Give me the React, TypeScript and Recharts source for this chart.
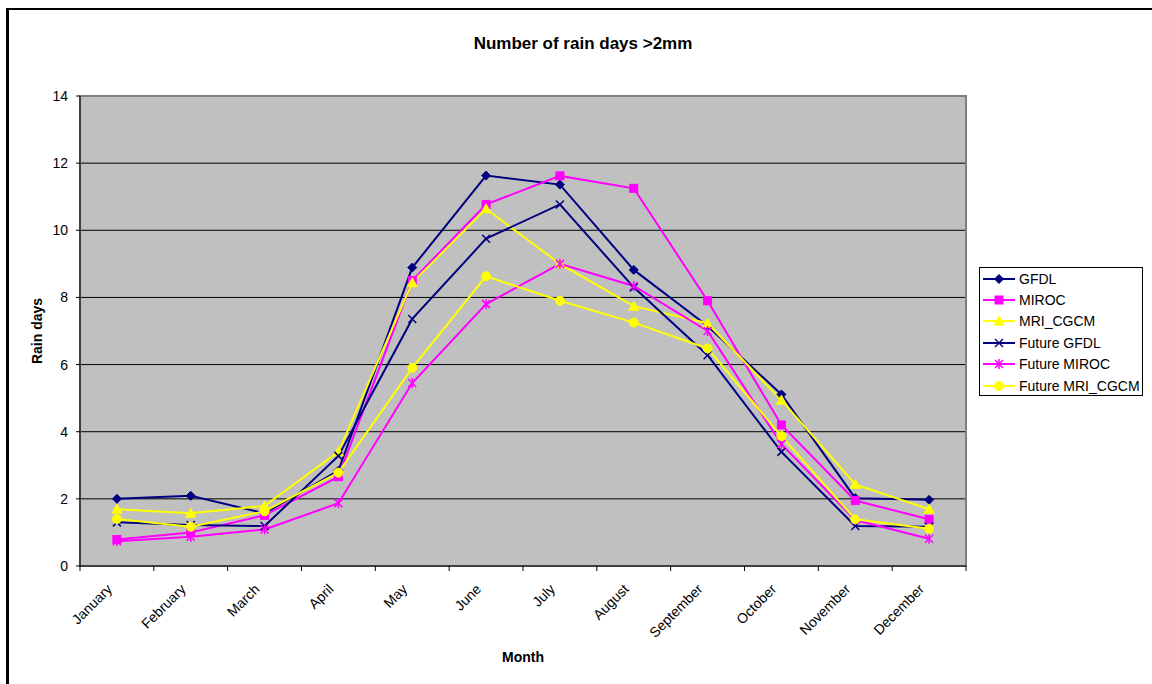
import React from "react";
import { LineChart, Line, XAxis, YAxis, CartesianGrid, ReferenceArea } from "recharts";

const months = [
  "January", "February", "March", "April", "May", "June",
  "July", "August", "September", "October", "November", "December",
];

// values
const gfdl = [2.0, 2.09, 1.57, 2.84, 8.89, 11.63, 11.36, 8.82, 7.15, 5.11, 2.02, 1.97];
const miroc = [0.79, 1.0, 1.51, 2.66, 8.5, 10.77, 11.62, 11.25, 7.9, 4.2, 1.95, 1.39];
const mriCgcm = [1.69, 1.57, 1.79, 3.4, 8.44, 10.64, 9.0, 7.74, 7.23, 4.94, 2.43, 1.69];
const futureGfdl = [1.3, 1.22, 1.19, 3.28, 7.36, 9.75, 10.77, 8.3, 6.28, 3.4, 1.19, 1.17];
const futureMiroc = [0.74, 0.87, 1.09, 1.87, 5.45, 7.8, 9.0, 8.34, 7.0, 3.63, 1.37, 0.81];
const futureMri = [1.4, 1.17, 1.63, 2.78, 5.9, 8.63, 7.9, 7.25, 6.48, 3.87, 1.39, 1.11];

const yTicks = [0, 2, 4, 6, 8, 10, 12, 14];

type Shape = "diamond" | "square" | "triangle" | "x" | "star" | "circle";

const series: { key: string; values: number[]; color: string; shape: Shape }[] = [
  { key: "GFDL", values: gfdl, color: "#000080", shape: "diamond" },
  { key: "MIROC", values: miroc, color: "#FF00FF", shape: "square" },
  { key: "MRI_CGCM", values: mriCgcm, color: "#FFFF00", shape: "triangle" },
  { key: "Future GFDL", values: futureGfdl, color: "#000080", shape: "x" },
  { key: "Future MIROC", values: futureMiroc, color: "#FF00FF", shape: "star" },
  { key: "Future MRI_CGCM", values: futureMri, color: "#FFFF00", shape: "circle" },
];

const data = months.map((m, i) => {
  const row: Record<string, string | number> = { month: m };
  series.forEach((s) => (row[s.key] = s.values[i]));
  return row;
});

const FONT = "Arial, 'Liberation Sans', sans-serif";

function Marker({ shape, color, cx, cy }: { shape: Shape; color: string; cx: number; cy: number }) {
  switch (shape) {
    case "diamond":
      return <polygon points={`${cx},${cy - 4.5} ${cx + 4.5},${cy} ${cx},${cy + 4.5} ${cx - 4.5},${cy}`} fill={color} stroke={color} />;
    case "square":
      return <rect x={cx - 4} y={cy - 4} width={8} height={8} fill={color} stroke={color} />;
    case "triangle":
      return <polygon points={`${cx},${cy - 5} ${cx + 5},${cy + 4} ${cx - 5},${cy + 4}`} fill={color} stroke={color} />;
    case "x":
      return (
        <g stroke={color} strokeWidth={1.5}>
          <line x1={cx - 4} y1={cy - 4} x2={cx + 4} y2={cy + 4} />
          <line x1={cx - 4} y1={cy + 4} x2={cx + 4} y2={cy - 4} />
        </g>
      );
    case "star":
      return (
        <g stroke={color} strokeWidth={1.5}>
          <line x1={cx - 4} y1={cy - 4} x2={cx + 4} y2={cy + 4} />
          <line x1={cx - 4} y1={cy + 4} x2={cx + 4} y2={cy - 4} />
          <line x1={cx} y1={cy - 5} x2={cx} y2={cy + 5} />
        </g>
      );
    default:
      return <circle cx={cx} cy={cy} r={4.5} fill={color} stroke={color} />;
  }
}

// label at the band centre, tick marks on the band edges (Excel style)
function MonthTick(props: any) {
  const { x, y, payload, index } = props;
  const half = payload.offset ?? 0;
  const ax = x - 4;
  const ay = y + 24;
  return (
    <g>
      <line x1={x - half} y1={y} x2={x - half} y2={y + 5} stroke="#000" />
      {index === months.length - 1 && <line x1={x + half} y1={y} x2={x + half} y2={y + 5} stroke="#000" />}
      <text x={ax} y={ay} transform={`rotate(-45 ${ax} ${ay})`} textAnchor="end" fontSize={14} fontFamily={FONT} fill="#000">
        {payload.value}
      </text>
    </g>
  );
}

export default function App() {
  return (
    <div style={{ position: "fixed", left: 0, top: 0, width: 1152, height: 684, overflow: "hidden", background: "#fff", fontFamily: FONT }}>
      {/* outer chart border, runs off the right and bottom edge */}
      <div style={{ position: "absolute", left: 6, top: 8, width: 1300, height: 800, borderLeft: "3px solid #000", borderTop: "2px solid #000" }} />

      <div style={{ position: "absolute", left: 0, top: 0 }}>
        <LineChart width={1152} height={684} data={data} margin={{ top: 96, right: 186, bottom: 117, left: 20 }}>
          <CartesianGrid fill="#C0C0C0" stroke="#000" vertical={false} />
          <ReferenceArea x1="January" x2="December" y1={0} y2={14} fill="none" stroke="#808080" strokeWidth={2} />
          <XAxis
            dataKey="month"
            scale="band"
            height={1}
            interval={0}
            axisLine={{ stroke: "#000" }}
            tickLine={false}
            tickSize={0}
            tickMargin={0}
            tick={<MonthTick />}
          />
          <YAxis
            domain={[0, 14]}
            ticks={yTicks}
            width={60}
            axisLine={{ stroke: "#000" }}
            tickLine={{ stroke: "#000" }}
            tickSize={4}
            tickMargin={8}
            tick={{ fill: "#000", fontSize: 14, fontFamily: FONT }}
          />
          {series.map((s) => (
            <Line
              key={s.key}
              dataKey={s.key}
              stroke={s.color}
              strokeWidth={2}
              isAnimationActive={false}
              activeDot={false}
              dot={(p: any) => <Marker key={`${s.key}-${p.index}`} shape={s.shape} color={s.color} cx={p.cx} cy={p.cy} />}
            />
          ))}
        </LineChart>
      </div>

      <div style={{ position: "absolute", left: 583, top: 44, transform: "translate(-50%, -50%)", fontSize: 17, fontWeight: "bold", whiteSpace: "nowrap" }}>
        Number of rain days &gt;2mm
      </div>
      <div style={{ position: "absolute", left: 37, top: 331, transform: "translate(-50%, -50%) rotate(-90deg)", fontSize: 14, fontWeight: "bold", whiteSpace: "nowrap" }}>
        Rain days
      </div>
      <div style={{ position: "absolute", left: 523, top: 657, transform: "translate(-50%, -50%)", fontSize: 14, fontWeight: "bold", whiteSpace: "nowrap" }}>
        Month
      </div>

      {/* legend */}
      <div style={{ position: "absolute", left: 979, top: 267, width: 164, height: 129, boxSizing: "border-box", border: "1px solid #000", background: "#fff" }}>
        {series.map((s) => (
          <div key={s.key} style={{ display: "flex", alignItems: "center", height: 21.4, fontSize: 14, whiteSpace: "nowrap" }}>
            <svg width={36} height={14} style={{ marginLeft: 3, flex: "none" }}>
              <line x1={0} y1={7} x2={32} y2={7} stroke={s.color} strokeWidth={2} />
              <Marker shape={s.shape} color={s.color} cx={16} cy={7} />
            </svg>
            <span>{s.key}</span>
          </div>
        ))}
      </div>
    </div>
  );
}
